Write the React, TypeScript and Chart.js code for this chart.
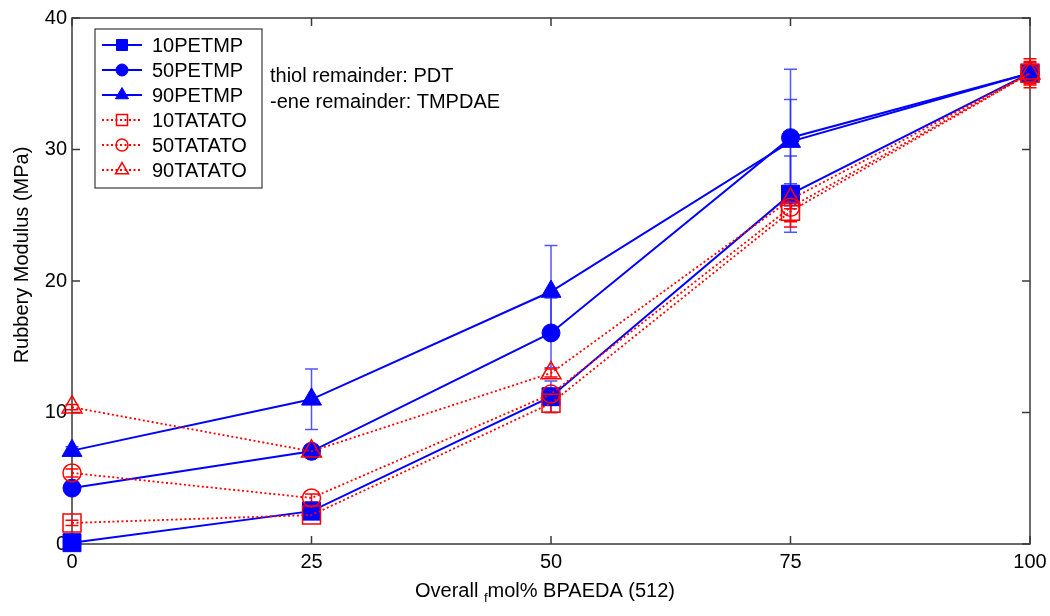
import React, { useEffect, useRef } from 'react';
import { Chart, registerables } from 'chart.js';

Chart.register(...registerables);

// ---------------- data ----------------
const xValues = [0, 25, 50, 75, 100];
const xTicks = [0, 25, 50, 75, 100];
const yTicks = [0, 10, 20, 30, 40];

const seriesNames = ['10PETMP', '50PETMP', '90PETMP', '10TATATO', '50TATATO', '90TATATO'];

const pet10 = [0.1, 2.5, 11.2, 26.6, 35.8];
const pet50 = [4.25, 7.05, 16.05, 30.9, 35.8];
const pet90 = [7.1, 11.0, 19.2, 30.6, 35.8];
const tat10 = [1.6, 2.2, 10.7, 25.3, 35.8];
const tat50 = [5.4, 3.5, 11.4, 25.6, 35.8];
const tat90 = [10.4, 7.05, 13.0, 26.2, 35.8];

const pet10Err = [0.1, 0.3, 1.2, 2.9, 0.3];
const pet50Err = [0.3, 0.3, 2.65, 5.2, 0.3];
const pet90Err = [0.3, 2.3, 3.5, 3.2, 0.3];
const tat10Err = [0.2, 0.3, 0.7, 1.2, 1.1];
const tat50Err = [0.3, 0.3, 0.4, 1.1, 0.9];
const tat90Err = [0.2, 0.2, 0.3, 0.7, 0.8];

const annotationLines = ['thiol remainder: PDT', '-ene remainder: TMPDAE'];
const yTitle = 'Rubbery Modulus (MPa)';
const xTitleParts = ['Overall ', 'f', 'mol% BPAEDA (512)'];

// ---------------- styles ----------------
const FONT = '"Liberation Sans", Arial, Helvetica, sans-serif';
const BLUE = '#0000ff';
const RED = '#ff0000';
const AXIS = '#3a3a3a';

type Style = {
  values: number[];
  errors: number[];
  color: string;
  filled: boolean;
  shape: 'rect' | 'circle' | 'triangle';
  radius: number;
  legendRadius: number;
  dashed: boolean;
  order: number;
};

const series: Style[] = [
  { values: pet10, errors: pet10Err, color: BLUE, filled: true, shape: 'rect', radius: 12.7, legendRadius: 7.8, dashed: false, order: 6 },
  { values: pet50, errors: pet50Err, color: BLUE, filled: true, shape: 'circle', radius: 9, legendRadius: 6, dashed: false, order: 5 },
  { values: pet90, errors: pet90Err, color: BLUE, filled: true, shape: 'triangle', radius: 11.5, legendRadius: 7.5, dashed: false, order: 4 },
  { values: tat10, errors: tat10Err, color: RED, filled: false, shape: 'rect', radius: 12.7, legendRadius: 7.8, dashed: true, order: 3 },
  { values: tat50, errors: tat50Err, color: RED, filled: false, shape: 'circle', radius: 9, legendRadius: 6, dashed: true, order: 2 },
  { values: tat90, errors: tat90Err, color: RED, filled: false, shape: 'triangle', radius: 11.5, legendRadius: 7.5, dashed: true, order: 1 },
];

function drawMarker(ctx: CanvasRenderingContext2D, s: Style, x: number, y: number, r: number) {
  ctx.save();
  ctx.setLineDash([]);
  ctx.beginPath();
  if (s.shape === 'rect') {
    const h = Math.SQRT1_2 * r;
    ctx.rect(x - h, y - h, 2 * h, 2 * h);
  } else if (s.shape === 'circle') {
    ctx.arc(x, y, r, 0, Math.PI * 2);
  } else {
    let a = 0;
    ctx.moveTo(x + Math.sin(a) * r, y - Math.cos(a) * r);
    a += (2 * Math.PI) / 3;
    ctx.lineTo(x + Math.sin(a) * r, y - Math.cos(a) * r);
    a += (2 * Math.PI) / 3;
    ctx.lineTo(x + Math.sin(a) * r, y - Math.cos(a) * r);
    ctx.closePath();
  }
  if (s.filled) {
    ctx.fillStyle = s.color;
    ctx.fill();
  }
  ctx.strokeStyle = s.color;
  ctx.lineWidth = s.filled ? 1 : 1.5;
  ctx.stroke();
  ctx.restore();
}

const underPlugin = {
  id: 'underLayer',
  beforeDatasetsDraw(chart: any) {
    const { ctx, chartArea: a, scales } = chart;
    const xs = scales.x;
    const ys = scales.y;
    ctx.save();
    // frame
    ctx.strokeStyle = AXIS;
    ctx.lineWidth = 1.5;
    ctx.setLineDash([]);
    ctx.strokeRect(a.left, a.top, a.right - a.left, a.bottom - a.top);
    // inward ticks
    ctx.beginPath();
    xTicks.forEach((t) => {
      const px = xs.getPixelForValue(t);
      ctx.moveTo(px, a.bottom);
      ctx.lineTo(px, a.bottom - 8);
      ctx.moveTo(px, a.top);
      ctx.lineTo(px, a.top + 8);
    });
    yTicks.forEach((t) => {
      const py = ys.getPixelForValue(t);
      ctx.moveTo(a.left, py);
      ctx.lineTo(a.left + 8, py);
      ctx.moveTo(a.right, py);
      ctx.lineTo(a.right - 8, py);
    });
    ctx.stroke();
    // error bars
    series.forEach((s) => {
      ctx.strokeStyle = s.color === BLUE ? 'rgba(40,40,255,0.8)' : RED;
      ctx.lineWidth = 1.5;
      s.values.forEach((v, j) => {
        const e = s.errors[j];
        if (!e) return;
        const px = xs.getPixelForValue(xValues[j]);
        const top = ys.getPixelForValue(v + e);
        const bot = ys.getPixelForValue(v - e);
        ctx.beginPath();
        ctx.moveTo(px, top);
        ctx.lineTo(px, bot);
        ctx.moveTo(px - 6.5, top);
        ctx.lineTo(px + 6.5, top);
        ctx.moveTo(px - 6.5, bot);
        ctx.lineTo(px + 6.5, bot);
        ctx.stroke();
      });
    });
    ctx.restore();
  },
};

const overPlugin = {
  id: 'overLayer',
  afterDraw(chart: any) {
    const { ctx } = chart;
    ctx.save();
    // legend box
    const bx = 95, by = 29, bw = 167, bh = 159;
    ctx.fillStyle = '#ffffff';
    ctx.fillRect(bx, by, bw, bh);
    ctx.strokeStyle = AXIS;
    ctx.lineWidth = 1.2;
    ctx.setLineDash([]);
    ctx.strokeRect(bx, by, bw, bh);
    ctx.font = `20px ${FONT}`;
    ctx.textBaseline = 'middle';
    ctx.textAlign = 'left';
    series.forEach((s, i) => {
      const cy = 45 + i * 25;
      ctx.save();
      ctx.strokeStyle = s.color;
      ctx.lineWidth = s.dashed ? 1.8 : 2;
      ctx.setLineDash(s.dashed ? [2, 2.5] : []);
      ctx.beginPath();
      ctx.moveTo(102, cy);
      ctx.lineTo(142, cy);
      ctx.stroke();
      ctx.restore();
      drawMarker(ctx, s, 122, cy, s.legendRadius);
      ctx.fillStyle = '#000000';
      ctx.fillText(seriesNames[i], 152, cy + 1);
    });
    // annotation
    ctx.fillStyle = '#000000';
    ctx.fillText(annotationLines[0], 270, 76);
    ctx.fillText(annotationLines[1], 270, 102);
    // x title with subscript
    const w0 = ctx.measureText(xTitleParts[0]).width;
    ctx.font = `13px ${FONT}`;
    const w1 = ctx.measureText(xTitleParts[1]).width;
    ctx.font = `20px ${FONT}`;
    const w2 = ctx.measureText(xTitleParts[2]).width;
    const total = w0 + w1 + w2;
    let sx = 545 - total / 2;
    const ty = 591;
    ctx.fillText(xTitleParts[0], sx, ty);
    sx += w0;
    ctx.font = `13px ${FONT}`;
    ctx.fillText(xTitleParts[1], sx, ty + 7);
    sx += w1;
    ctx.font = `20px ${FONT}`;
    ctx.fillText(xTitleParts[2], sx, ty);
    // y title
    ctx.translate(22, 255);
    ctx.rotate(-Math.PI / 2);
    ctx.textAlign = 'center';
    ctx.fillText(yTitle, 0, 0);
    ctx.restore();
  },
};

export default function App() {
  const ref = useRef<HTMLCanvasElement | null>(null);

  useEffect(() => {
    if (!ref.current) return;
    const datasets = series.map((s, i) => ({
      label: seriesNames[i],
      data: s.values.map((v, j) => ({ x: xValues[j], y: v })),
      borderColor: s.color,
      backgroundColor: s.filled ? s.color : 'rgba(0,0,0,0)',
      borderWidth: s.dashed ? 1.8 : 2,
      borderDash: s.dashed ? [2, 2.5] : [],
      pointStyle: s.shape,
      pointRadius: s.radius,
      pointBorderWidth: s.filled ? 1 : 1.5,
      pointBorderColor: s.color,
      pointBackgroundColor: s.filled ? s.color : 'rgba(0,0,0,0)',
      tension: 0,
      fill: false,
      clip: false as any,
      order: s.order,
    }));

    const chart = new Chart(ref.current, {
      type: 'line',
      data: { datasets },
      plugins: [underPlugin, overPlugin],
      options: {
        animation: false,
        responsive: false,
        events: [],
        layout: { padding: { left: 0, right: 20, top: 18, bottom: 0 } },
        plugins: { legend: { display: false }, tooltip: { enabled: false } },
        scales: {
          x: {
            type: 'linear',
            min: 0,
            max: 100,
            afterBuildTicks: (scale: any) => {
              scale.ticks = xTicks.map((v) => ({ value: v }));
            },
            afterFit: (scale: any) => {
              scale.height = 72;
              scale.paddingRight = 0;
              scale.paddingLeft = 0;
            },
            grid: { display: false, drawTicks: false },
            border: { display: false },
            ticks: { color: '#000', font: { family: FONT, size: 20 }, padding: 6, maxRotation: 0 },
          },
          y: {
            type: 'linear',
            min: 0,
            max: 40,
            afterBuildTicks: (scale: any) => {
              scale.ticks = yTicks.map((v) => ({ value: v }));
            },
            afterFit: (scale: any) => {
              scale.width = 72;
              scale.paddingTop = 0;
              scale.paddingBottom = 0;
            },
            grid: { display: false, drawTicks: false },
            border: { display: false },
            ticks: { color: '#000', font: { family: FONT, size: 20 }, padding: 5 },
          },
        },
      },
    });
    return () => chart.destroy();
  }, []);

  return (
    <div style={{ position: 'fixed', left: 0, top: 0, width: 1050, height: 616, background: '#fff' }}>
      <canvas ref={ref} width={1050} height={616} style={{ width: 1050, height: 616, display: 'block' }} />
    </div>
  );
}
